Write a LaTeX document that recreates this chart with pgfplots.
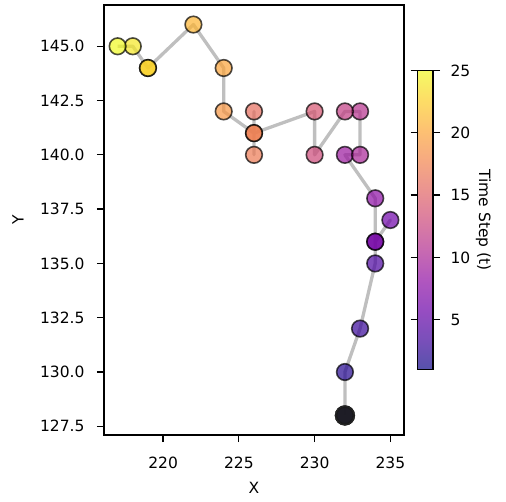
\documentclass[border=0pt]{standalone}
\usepackage{pgfplots}
\usepackage{pgfplotstable}
\pgfplotsset{compat=1.18}
\usepackage{fontspec}
\setmainfont{DejaVu Sans}
\pgfplotsset{
  colormap={plasma}{rgb255=(13,8,135) rgb255=(65,4,157) rgb255=(106,0,168) rgb255=(143,13,164) rgb255=(177,42,144) rgb255=(204,71,120) rgb255=(225,100,98) rgb255=(242,132,75) rgb255=(252,166,54) rgb255=(252,206,37) rgb255=(240,249,33)},
  colormap={plasmafade}{rgb255=(86,82,171) rgb255=(122,79,186) rgb255=(151,77,194) rgb255=(177,86,191) rgb255=(200,106,177) rgb255=(219,126,161) rgb255=(234,147,145) rgb255=(246,169,129) rgb255=(253,193,114) rgb255=(253,221,102) rgb255=(245,251,100)},
}
\pgfplotstableread{
t x y
1 232 128
2 232 130
3 233 132
4 234 135
5 234 136
6 235 137
7 234 136
8 234 138
9 232 140
10 233 140
11 233 142
12 232 142
13 230 140
14 230 142
15 226 141
16 226 142
17 226 140
18 226 141
19 224 142
20 224 144
21 222 146
22 219 144
23 219 144
24 218 145
25 217 145
}\traj
\newcommand{\fs}{\fontsize{15.5}{18}\selectfont}
\begin{document}
\begin{tikzpicture}
\useasboundingbox (-104pt,-66pt) rectangle (402pt,435pt);
\begin{axis}[
  scale only axis, width=300pt, height=430pt,
  xmin=216.1, xmax=235.9, ymin=127.1, ymax=146.9,
  axis line style={line width=1.5pt},
  tick style={line width=1.3pt, black},
  major tick length=7pt, tick align=outside,
  xtick pos=bottom, ytick pos=left,
  xtick={220,225,230,235},
  ytick={127.5,130,132.5,135,137.5,140,142.5,145},
  /pgf/number format/assume math mode=true,
  tick label style={font=\fs},
  xticklabel style={yshift=-11pt},
  yticklabel style={xshift=-9pt, /pgf/number format/.cd, fixed, fixed zerofill, precision=1},
  label style={font=\fs},
  xlabel={X}, ylabel={Y},
  xlabel style={at={(axis description cs:0.5,-0.123)}, anchor=center},
  ylabel style={at={(axis description cs:-0.287,0.5)}, anchor=center},
  colormap name=plasma, point meta min=1, point meta max=25,
  colorbar,
  colorbar style={
    at={(parent axis.east)}, anchor=west, xshift=5pt,
    scale only axis, width=15.5pt, height=299pt,
    colormap name=plasmafade,
    ytick={5,10,15,20,25},
    axis line style={line width=1.2pt},
    tick style={line width=1.2pt, black},
    major tick length=7pt, tick align=outside,
    yticklabel pos=right,
    /pgf/number format/assume math mode=true,
    tick label style={font=\fs},
    yticklabel style={font=\fs, xshift=7pt},
    ylabel={Time Step (t)},
    ylabel style={font=\fs, at={(axis description cs:4.25,0.5)}, anchor=center, rotate=180},
  },
]
\addplot[no marks, line width=3.3pt, color={rgb,255:red,191;green,191;blue,191}, line join=round] table[x=x,y=y] {\traj};
\addplot[scatter, only marks, mark=*, mark size=8.3pt, scatter src=explicit,
  scatter/use mapped color={draw=black, fill=mapped color},
  mark options={line width=1.6pt, fill opacity=0.7, draw opacity=0.7}]
  table[x=x,y=y,meta=t] {\traj};
\addplot[only marks, mark=*, mark size=10pt, mark options={fill=black!90, draw=none, fill opacity=0.9}] coordinates {(232,128)};
\end{axis}
\end{tikzpicture}
\end{document}
